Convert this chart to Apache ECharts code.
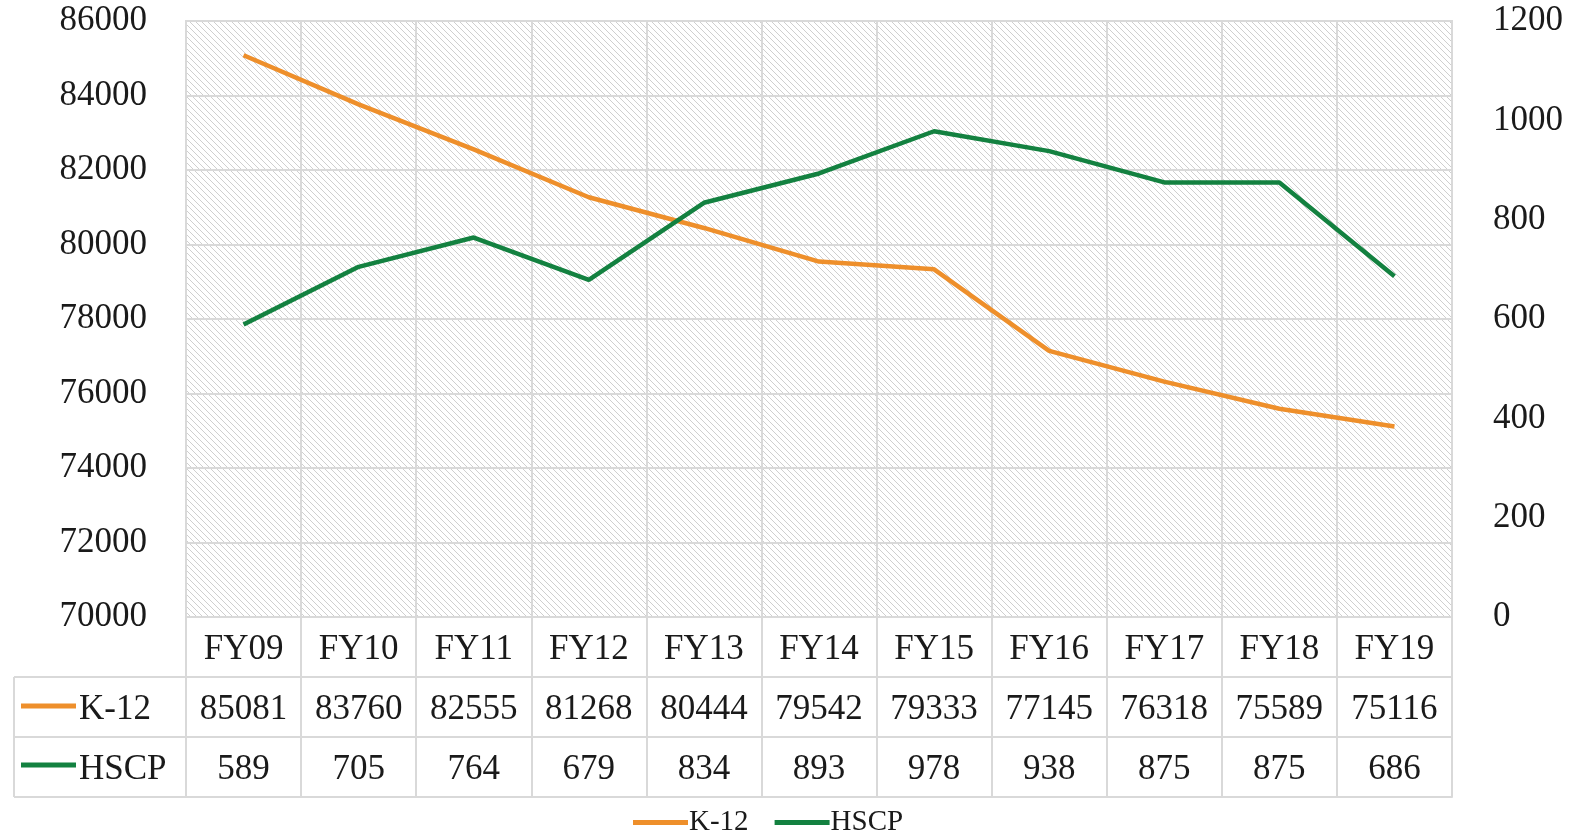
<!DOCTYPE html>
<html><head><meta charset="utf-8">
<script src="https://cdn.jsdelivr.net/npm/echarts@6/dist/echarts.min.js"></script>
<style>html,body{margin:0;padding:0;background:#fff}#c{width:1581px;height:835px}</style>
</head><body><div id="c"></div>
<script>
var categories = ['FY09','FY10','FY11','FY12','FY13','FY14','FY15','FY16','FY17','FY18','FY19'];
var k12 = [85081,83760,82555,81268,80444,79542,79333,77145,76318,75589,75116];
var hscp = [589,705,764,679,834,893,978,938,875,875,686];
var seriesNames = ['K-12','HSCP'];
var leftTicks = {min:70000, max:86000, interval:2000};
var rightTicks = {min:0, max:1200, interval:200};

var ORANGE = '#EE8F2B', GREEN = '#138140', GRIDC = '#D9D9D9', TXT = '#1a1a1a';
var FONT = '"Liberation Serif", "DejaVu Serif", serif';
var FS = 35;

// hatch pattern
var pc = document.createElement('canvas');
pc.width = 6; pc.height = 6;
var ctx = pc.getContext('2d');
ctx.fillStyle = '#fff'; ctx.fillRect(0,0,6,6);
ctx.strokeStyle = '#cfcfcf'; ctx.lineWidth = 1;
ctx.beginPath();
ctx.moveTo(-1,-1); ctx.lineTo(7,7);
ctx.moveTo(-1,5); ctx.lineTo(1,7);
ctx.moveTo(5,-1); ctx.lineTo(7,1);
ctx.stroke();

var G = {left:186, right:129, top:21, bottom:218};
var ROW = 60;
var W = 1581;
var LM = ROW/2 + 3;

var chart = echarts.init(document.getElementById('c'), null, {renderer:'canvas'});

function plain(v){ return String(v); }

function valAxis(data, off) {
  return {
    type:'category', data:data, position:'bottom', offset:off,
    axisLine:{show:true, lineStyle:{color:GRIDC, width:2}},
    axisTick:{show:false}, splitLine:{show:false},
    axisLabel:{fontFamily:FONT, fontSize:FS, color:TXT, margin:LM, verticalAlign:'middle', interval:0}
  };
}

var rowTop1 = 835 - G.bottom + ROW, rowTop2 = rowTop1 + ROW, rowBot = rowTop2 + ROW;
var tableLeft = 14;

var option = {
  animation:false,
  backgroundColor:'#fff',
  grid:{left:G.left, right:G.right, top:G.top, bottom:G.bottom, show:true,
        backgroundColor:{image:pc, repeat:'repeat'}, borderColor:GRIDC, borderWidth:2},
  xAxis:[
    {type:'category', data:categories, position:'bottom', boundaryGap:true,
     axisLine:{show:true, lineStyle:{color:GRIDC, width:2}},
     axisTick:{show:true, length:ROW*3, lineStyle:{color:GRIDC, width:2}},
     splitLine:{show:true, lineStyle:{color:GRIDC, width:2}},
     axisLabel:{fontFamily:FONT, fontSize:FS, color:TXT, margin:LM, verticalAlign:'middle', interval:0}},
    valAxis(k12.map(String), ROW),
    valAxis(hscp.map(String), ROW*2),
    valAxis(categories.map(function(){return '';}), ROW*3)
  ],
  yAxis:[
    {type:'value', min:leftTicks.min, max:leftTicks.max, interval:leftTicks.interval,
     axisLine:{show:false}, axisTick:{show:false},
     splitLine:{show:true, lineStyle:{color:GRIDC, width:2}},
     axisLabel:{fontFamily:FONT, fontSize:FS, color:TXT, margin:39, formatter:plain}},
    {type:'value', min:rightTicks.min, max:rightTicks.max, interval:rightTicks.interval,
     axisLine:{show:false}, axisTick:{show:false}, splitLine:{show:false},
     axisLabel:{fontFamily:FONT, fontSize:FS, color:TXT, margin:41, formatter:plain}}
  ],
  legend:{
    data:seriesNames, left:628, top:803, icon:'rect', itemWidth:55, itemHeight:5, itemGap:26,
    textStyle:{fontFamily:FONT, fontSize:29, color:TXT, padding:[0,0,0,-4]}
  },
  series:[
    {name:seriesNames[0], type:'line', data:k12, xAxisIndex:0, yAxisIndex:0, showSymbol:false, symbol:'none',
     lineStyle:{color:ORANGE, width:4.5}, itemStyle:{color:ORANGE}, z:3},
    {name:seriesNames[1], type:'line', data:hscp, xAxisIndex:0, yAxisIndex:1, showSymbol:false, symbol:'none',
     lineStyle:{color:GREEN, width:4.5}, itemStyle:{color:GREEN}, z:3}
  ],
  graphic:[
    {type:'line', shape:{x1:tableLeft, y1:rowTop1, x2:G.left, y2:rowTop1}, style:{stroke:GRIDC, lineWidth:2}},
    {type:'line', shape:{x1:tableLeft, y1:rowTop2, x2:G.left, y2:rowTop2}, style:{stroke:GRIDC, lineWidth:2}},
    {type:'line', shape:{x1:tableLeft, y1:rowBot, x2:G.left, y2:rowBot}, style:{stroke:GRIDC, lineWidth:2}},
    {type:'line', shape:{x1:tableLeft, y1:rowTop1, x2:tableLeft, y2:rowBot}, style:{stroke:GRIDC, lineWidth:2}},
    {type:'line', shape:{x1:G.left, y1:rowTop1-ROW, x2:G.left, y2:rowBot}, style:{stroke:GRIDC, lineWidth:2}},
    {type:'line', shape:{x1:W-G.right, y1:rowTop1-ROW, x2:W-G.right, y2:rowBot}, style:{stroke:GRIDC, lineWidth:2}},
    {type:'line', shape:{x1:21, y1:rowTop1+ROW/2-1, x2:76, y2:rowTop1+ROW/2-1}, style:{stroke:ORANGE, lineWidth:5}},
    {type:'line', shape:{x1:21, y1:rowTop2+ROW/2-2, x2:76, y2:rowTop2+ROW/2-2}, style:{stroke:GREEN, lineWidth:5}},
    {type:'text', x:79, y:rowTop1+ROW/2+3, style:{text:seriesNames[0], font:FS+'px '+FONT, fill:TXT, textVerticalAlign:'middle'}},
    {type:'text', x:79, y:rowTop2+ROW/2+3, style:{text:seriesNames[1], font:FS+'px '+FONT, fill:TXT, textVerticalAlign:'middle'}}
  ]
};
chart.setOption(option);
</script>
</body></html>
